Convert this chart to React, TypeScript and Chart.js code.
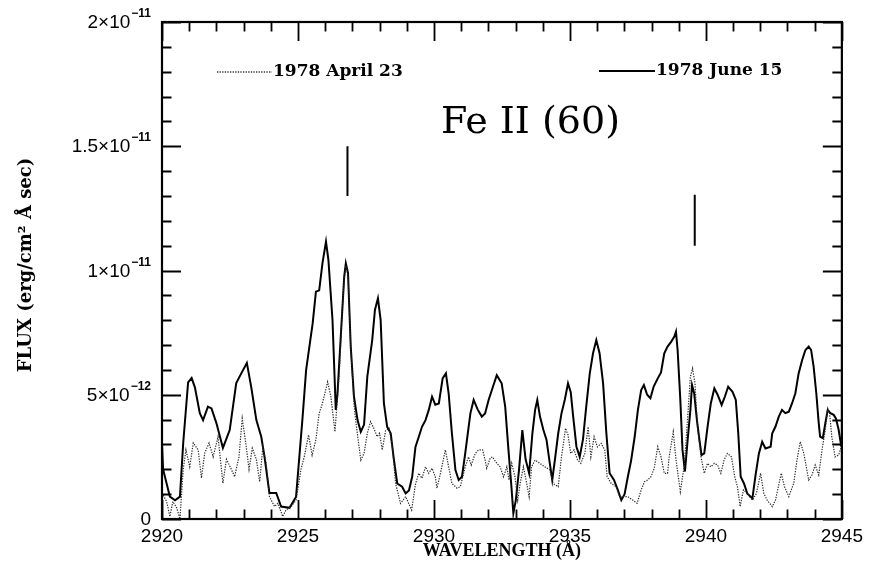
import React, { useEffect, useRef } from "react";
import { Chart, registerables } from "chart.js";

Chart.register(...registerables);

// Flux values are in units of 1e-12 erg/cm^2 Å sec
const juneWavelength = [
  2920.00, 2920.04, 2920.29, 2920.48, 2920.66, 2920.78, 2920.96, 2921.09, 2921.21, 2921.39,
  2921.51, 2921.69, 2921.82, 2922.00, 2922.24, 2922.49, 2922.73, 2922.92, 2923.12, 2923.28,
  2923.47, 2923.65, 2923.77, 2923.95, 2924.20, 2924.38, 2924.69, 2924.93, 2925.17, 2925.30,
  2925.54, 2925.66, 2925.78, 2925.90, 2926.03, 2926.12, 2926.27, 2926.39, 2926.45, 2926.58,
  2926.70, 2926.76, 2926.84, 2926.94, 2927.06, 2927.19, 2927.31, 2927.43, 2927.55, 2927.73,
  2927.83, 2927.94, 2928.04, 2928.16, 2928.28, 2928.41, 2928.53, 2928.65, 2928.83, 2928.96,
  2929.08, 2929.20, 2929.32, 2929.44, 2929.56, 2929.69, 2929.81, 2929.93, 2930.05, 2930.18,
  2930.32, 2930.44, 2930.54, 2930.66, 2930.79, 2930.91, 2931.03, 2931.15, 2931.34, 2931.46,
  2931.61, 2931.76, 2931.88, 2932.01, 2932.13, 2932.31, 2932.49, 2932.62, 2932.74, 2932.84,
  2932.92, 2933.01, 2933.13, 2933.25, 2933.37, 2933.50, 2933.62, 2933.72, 2933.80, 2933.90,
  2934.02, 2934.14, 2934.26, 2934.35, 2934.45, 2934.57, 2934.69, 2934.81, 2934.93, 2935.03,
  2935.12, 2935.24, 2935.36, 2935.48, 2935.60, 2935.73, 2935.85, 2935.97, 2936.09, 2936.22,
  2936.34, 2936.46, 2936.62, 2936.76, 2936.89, 2937.01, 2937.13, 2937.25, 2937.38, 2937.50,
  2937.62, 2937.72, 2937.84, 2937.96, 2938.08, 2938.23, 2938.35, 2938.47, 2938.59, 2938.72,
  2938.84, 2938.90, 2938.96, 2939.06, 2939.14, 2939.23, 2939.33, 2939.43, 2939.49, 2939.57,
  2939.67, 2939.76, 2939.84, 2939.94, 2940.06, 2940.18, 2940.31, 2940.43, 2940.58, 2940.70,
  2940.82, 2940.98, 2941.10, 2941.19, 2941.28, 2941.40, 2941.52, 2941.71, 2941.83, 2941.95,
  2942.07, 2942.19, 2942.38, 2942.44, 2942.56, 2942.68, 2942.80, 2942.92, 2943.05, 2943.17,
  2943.29, 2943.41, 2943.54, 2943.66, 2943.78, 2943.87, 2943.96, 2944.06, 2944.15, 2944.20,
  2944.30, 2944.39, 2944.48, 2944.58, 2944.70, 2944.78, 2944.88, 2944.98,
];
const juneFlux = [
  3.06, 2.0, 0.9, 0.75, 0.9, 3.06, 5.5, 5.67, 5.3, 4.26,
  3.98, 4.52, 4.45, 3.86, 2.86, 3.58, 5.47, 5.87, 6.28, 5.32,
  3.98, 3.31, 2.5, 1.05, 1.05, 0.5, 0.45, 0.9, 4.1, 6.0,
  7.87, 9.15, 9.2, 10.29, 11.16, 10.42, 8.0, 4.39, 5.0, 7.46,
  9.75, 10.29, 9.9, 6.94, 4.92, 3.98, 3.51, 3.8, 5.73, 7.2,
  8.41, 8.88, 8.0, 4.65, 3.71, 3.45, 2.37, 1.43, 1.3, 1.03,
  1.15, 1.7, 2.9, 3.3, 3.71, 3.98, 4.39, 4.92, 4.6, 4.65,
  5.66, 5.86, 5.06, 3.45, 1.97, 1.57, 1.7, 2.64, 4.25, 4.79,
  4.4, 4.12, 4.25, 4.79, 5.19, 5.79, 5.46, 4.52, 2.78, 1.43,
  0.23, 0.75, 2.0, 3.58, 2.4, 1.84, 3.45, 4.39, 4.79, 4.12,
  3.6, 3.18, 2.24, 1.57, 2.4, 3.45, 4.25, 4.79, 5.46, 5.1,
  4.12, 2.91, 2.5, 3.2, 4.52, 5.86, 6.67, 7.2, 6.67, 5.46,
  3.45, 1.84, 1.57, 1.17, 0.76, 1.0, 1.7, 2.35, 3.3, 4.39,
  5.19, 5.39, 5.0, 4.86, 5.33, 5.66, 5.9, 6.67, 6.94, 7.13,
  7.34, 7.54, 6.8, 4.79, 2.78, 1.91, 3.2, 4.39, 5.39, 5.05,
  3.98, 3.2, 2.57, 2.64, 3.7, 4.65, 5.26, 5.0, 4.59, 4.93,
  5.32, 5.12, 4.79, 3.45, 1.7, 1.43, 1.03, 0.83, 1.8, 2.64,
  3.11, 2.84, 2.91, 3.45, 3.72, 4.12, 4.39, 4.26, 4.32, 4.66,
  5.06, 5.86, 6.4, 6.8, 6.94, 6.8, 6.14, 5.06, 3.85, 3.31,
  3.25, 3.85, 4.39, 4.26, 4.19, 4.05, 3.6, 2.91,
];

const aprilWavelength = [
  2920.00, 2920.17, 2920.29, 2920.40, 2920.54, 2920.66, 2920.78, 2920.88, 2921.02, 2921.15,
  2921.33, 2921.45, 2921.57, 2921.73, 2921.88, 2922.06, 2922.24, 2922.37, 2922.55, 2922.67,
  2922.83, 2922.95, 2923.10, 2923.20, 2923.32, 2923.47, 2923.59, 2923.71, 2923.83, 2923.95,
  2924.14, 2924.26, 2924.44, 2924.56, 2924.75, 2924.93, 2925.11, 2925.23, 2925.39, 2925.52,
  2925.66, 2925.78, 2925.90, 2926.09, 2926.21, 2926.36, 2926.52, 2926.63, 2926.70, 2926.76,
  2926.84, 2926.94, 2927.06, 2927.12, 2927.31, 2927.43, 2927.55, 2927.67, 2927.79, 2927.91,
  2928.00, 2928.10, 2928.22, 2928.35, 2928.47, 2928.59, 2928.77, 2928.96, 2929.18, 2929.32,
  2929.44, 2929.56, 2929.69, 2929.81, 2929.93, 2930.05, 2930.11, 2930.24, 2930.42, 2930.54,
  2930.66, 2930.85, 2930.97, 2931.15, 2931.27, 2931.37, 2931.52, 2931.64, 2931.79, 2931.88,
  2931.94, 2932.07, 2932.15, 2932.31, 2932.43, 2932.56, 2932.68, 2932.76, 2932.86, 2932.98,
  2933.08, 2933.17, 2933.29, 2933.41, 2933.50, 2933.59, 2933.72, 2933.90, 2934.08, 2934.26,
  2934.38, 2934.57, 2934.69, 2934.84, 2934.93, 2935.03, 2935.15, 2935.28, 2935.40, 2935.55,
  2935.67, 2935.77, 2935.89, 2936.01, 2936.15, 2936.28, 2936.37, 2936.52, 2936.70, 2936.83,
  2936.95, 2937.13, 2937.31, 2937.47, 2937.62, 2937.74, 2937.86, 2937.98, 2938.10, 2938.23,
  2938.35, 2938.47, 2938.59, 2938.65, 2938.80, 2938.90, 2939.06, 2939.21, 2939.33, 2939.43,
  2939.51, 2939.60, 2939.69, 2939.82, 2939.94, 2940.06, 2940.18, 2940.31, 2940.43, 2940.55,
  2940.67, 2940.79, 2940.94, 2941.06, 2941.16, 2941.26, 2941.38, 2941.52, 2941.71, 2941.86,
  2942.01, 2942.13, 2942.25, 2942.44, 2942.56, 2942.77, 2942.89, 2943.05, 2943.23, 2943.35,
  2943.47, 2943.60, 2943.78, 2943.90, 2944.02, 2944.15, 2944.27, 2944.39, 2944.48, 2944.55,
  2944.63, 2944.75, 2944.88, 2944.98,
];
const aprilFlux = [
  1.05, 0.7, 0.1, 0.7, 0.45, 0.0, 2.0, 2.78, 2.1, 3.06,
  2.78, 1.65, 2.65, 3.06, 2.5, 3.31, 1.44, 2.4, 2.0, 1.7,
  2.5, 4.05, 2.9, 2.0, 2.85, 2.4, 1.5, 2.9, 2.25, 0.9,
  0.5, 0.63, 0.1, 0.36, 0.5, 0.76, 2.0, 2.5, 3.38, 2.57,
  3.2, 4.25, 4.65, 5.52, 4.92, 3.51, 5.86, 8.5, 9.6, 10.2,
  9.8, 6.9, 4.6, 3.98, 2.37, 2.64, 3.45, 3.92, 3.65, 3.31,
  3.45, 2.78, 3.55, 3.65, 2.9, 1.43, 0.63, 0.9, 0.36, 1.4,
  1.84, 1.64, 2.1, 1.84, 2.04, 1.7, 1.24, 1.84, 2.78, 2.1,
  1.43, 1.24, 1.3, 2.1, 2.5, 2.17, 2.64, 2.78, 2.78, 2.38,
  2.04, 2.45, 2.5, 2.24, 2.1, 1.7, 2.1, 1.57, 2.24, 1.7,
  0.76, 1.43, 2.1, 1.43, 0.9, 2.1, 2.37, 2.24, 2.1, 1.97,
  1.43, 1.3, 2.5, 3.65, 3.38, 2.64, 2.78, 2.38, 2.24, 2.64,
  3.71, 2.5, 3.31, 2.9, 3.04, 2.78, 1.7, 1.43, 1.3, 0.9,
  0.9, 0.9, 0.76, 0.63, 1.17, 1.5, 1.57, 1.7, 2.04, 2.91,
  2.5, 1.84, 1.84, 2.5, 3.51, 2.4, 1.1, 2.2, 4.1, 5.73,
  6.06, 5.45, 3.71, 2.5, 1.84, 2.24, 2.1, 2.24, 2.17, 1.84,
  2.38, 2.64, 2.5, 1.7, 1.3, 0.5, 1.17, 1.03, 0.76, 1.03,
  1.84, 1.03, 0.76, 0.5, 0.76, 1.84, 1.3, 0.9, 1.44, 2.37,
  3.11, 2.64, 1.57, 1.77, 2.17, 1.77, 2.78, 3.58, 4.45, 4.25,
  3.31, 2.5, 2.57, 2.91,
];

// Line identification markers (wavelength, flux bottom/top)
const markerWavelength = [2926.82, 2939.59];
const markerBottom = [13.0, 11.0];
const markerTop = [15.0, 13.05];

const yTickBase = ["0", "5×10", "1×10", "1.5×10", "2×10"];
const yTickExp = ["", "−12", "−11", "−11", "−11"];
const legendLabels = ["1978 April 23", "1978 June 15"];
const titleText = "Fe II (60)";
const xAxisTitle = "WAVELENGTH (Å)";
const yAxisTitle = "FLUX (erg/cm² Å sec)";

const framePlugin = {
  id: "framePlugin",
  afterDraw(chart: any) {
    const { ctx, chartArea, scales } = chart;
    const { left, right, top, bottom } = chartArea;
    const xs = scales.x;
    const ys = scales.y;
    ctx.save();
    ctx.strokeStyle = "#000";
    ctx.fillStyle = "#000";
    ctx.lineWidth = 2.2;
    ctx.strokeRect(left, top, right - left, bottom - top);

    // inward ticks
    ctx.lineWidth = 1.8;
    ctx.beginPath();
    for (let v = xs.min; v <= xs.max + 1e-9; v += 1) {
      const px = Math.round(xs.getPixelForValue(v)) + 0.5;
      const len = Math.round(v) % 5 === 0 ? 19 : 9.5;
      ctx.moveTo(px, bottom);
      ctx.lineTo(px, bottom - len);
      ctx.moveTo(px, top);
      ctx.lineTo(px, top + len);
    }
    for (let v = ys.min; v <= ys.max + 1e-9; v += 1) {
      const py = Math.round(ys.getPixelForValue(v)) + 0.5;
      const len = Math.round(v) % 5 === 0 ? 19 : 9.5;
      ctx.moveTo(left, py);
      ctx.lineTo(left + len, py);
      ctx.moveTo(right, py);
      ctx.lineTo(right - len, py);
    }
    ctx.stroke();

    // y tick labels with exponents
    ys.ticks.forEach((t: any) => {
      const idx = Math.round(t.value / 5);
      const base = yTickBase[idx];
      const exp = yTickExp[idx];
      if (base === undefined) return;
      const py = ys.getPixelForValue(t.value);
      const expRight = left - 11;
      ctx.font = 'bold 12px "Liberation Sans"';
      const expW = exp ? ctx.measureText(exp).width : 0;
      ctx.textAlign = "right";
      ctx.textBaseline = "alphabetic";
      if (exp) ctx.fillText(exp, expRight, py - 5);
      ctx.font = '19px "Liberation Sans"';
      ctx.textBaseline = "middle";
      ctx.fillText(base, expRight - expW - (exp ? 1 : 0), py + 1);
    });

    // legend
    ctx.lineWidth = 1.3;
    ctx.setLineDash([1.3, 1.3]);
    ctx.strokeStyle = "#333";
    ctx.beginPath();
    ctx.moveTo(217, 72);
    ctx.lineTo(272, 72);
    ctx.stroke();
    ctx.setLineDash([]);
    ctx.strokeStyle = "#000";
    ctx.lineWidth = 2;
    ctx.beginPath();
    ctx.moveTo(599, 71);
    ctx.lineTo(655, 71);
    ctx.stroke();
    ctx.font = 'bold 17px "DejaVu Serif"';
    ctx.textAlign = "left";
    ctx.textBaseline = "middle";
    ctx.fillText(legendLabels[0], 273, 72);
    ctx.fillText(legendLabels[1], 656, 71);

    // title
    ctx.font = '38px "DejaVu Serif"';
    ctx.textBaseline = "alphabetic";
    ctx.fillText(titleText, 441, 133);

    // axis titles
    ctx.font = 'bold 18px "Liberation Serif"';
    ctx.textAlign = "center";
    ctx.textBaseline = "middle";
    ctx.fillText(xAxisTitle, (left + right) / 2, 551);
    ctx.save();
    ctx.translate(26, 265);
    ctx.rotate(-Math.PI / 2);
    ctx.font = 'bold 18px "DejaVu Serif"';
    ctx.fillText(yAxisTitle, 0, 0);
    ctx.restore();
    ctx.restore();
  },
};

export default function App() {
  const ref = useRef<HTMLCanvasElement | null>(null);
  useEffect(() => {
    document.body.style.margin = "0";
    const canvas = ref.current;
    if (!canvas) return;
    const datasets: any[] = [
      {
        label: legendLabels[0],
        data: aprilWavelength.map((x, i) => ({ x, y: aprilFlux[i] })),
        borderColor: "#2a2a2a",
        borderWidth: 1.2,
        borderDash: [1.3, 1.3],
        pointRadius: 0,
        tension: 0,
        fill: false,
      },
      {
        label: legendLabels[1],
        data: juneWavelength.map((x, i) => ({ x, y: juneFlux[i] })),
        borderColor: "#000",
        borderWidth: 2,
        pointRadius: 0,
        tension: 0,
        fill: false,
      },
    ];
    markerWavelength.forEach((w, i) => {
      datasets.push({
        label: "marker" + i,
        data: [
          { x: w, y: markerBottom[i] },
          { x: w, y: markerTop[i] },
        ],
        borderColor: "#000",
        borderWidth: 2,
        pointRadius: 0,
        fill: false,
      });
    });
    const chart = new Chart(canvas, {
      type: "line",
      data: { datasets },
      options: {
        animation: false,
        responsive: false,
        events: [],
        layout: { padding: { top: 22, right: 24, left: 0, bottom: 0 } },
        plugins: { legend: { display: false }, tooltip: { enabled: false } },
        scales: {
          x: {
            type: "linear",
            min: 2920,
            max: 2945,
            ticks: {
              stepSize: 5,
              autoSkip: false,
              maxRotation: 0,
              color: "#000",
              padding: 6,
              font: { family: "Liberation Sans", size: 19 },
              callback: (v: any) => String(v),
            },
            grid: { display: false, drawTicks: false },
            border: { display: false },
            afterFit: (s: any) => {
              s.height = 49;
            },
          },
          y: {
            type: "linear",
            min: 0,
            max: 20,
            ticks: { stepSize: 5, display: false },
            grid: { display: false, drawTicks: false },
            border: { display: false },
            afterFit: (s: any) => {
              s.width = 162;
            },
          },
        },
      } as any,
      plugins: [framePlugin],
    });
    return () => chart.destroy();
  }, []);
  return (
    <div style={{ width: 869, height: 568, background: "#fff" }}>
      <canvas ref={ref} width={869} height={568} style={{ display: "block" }} />
    </div>
  );
}
